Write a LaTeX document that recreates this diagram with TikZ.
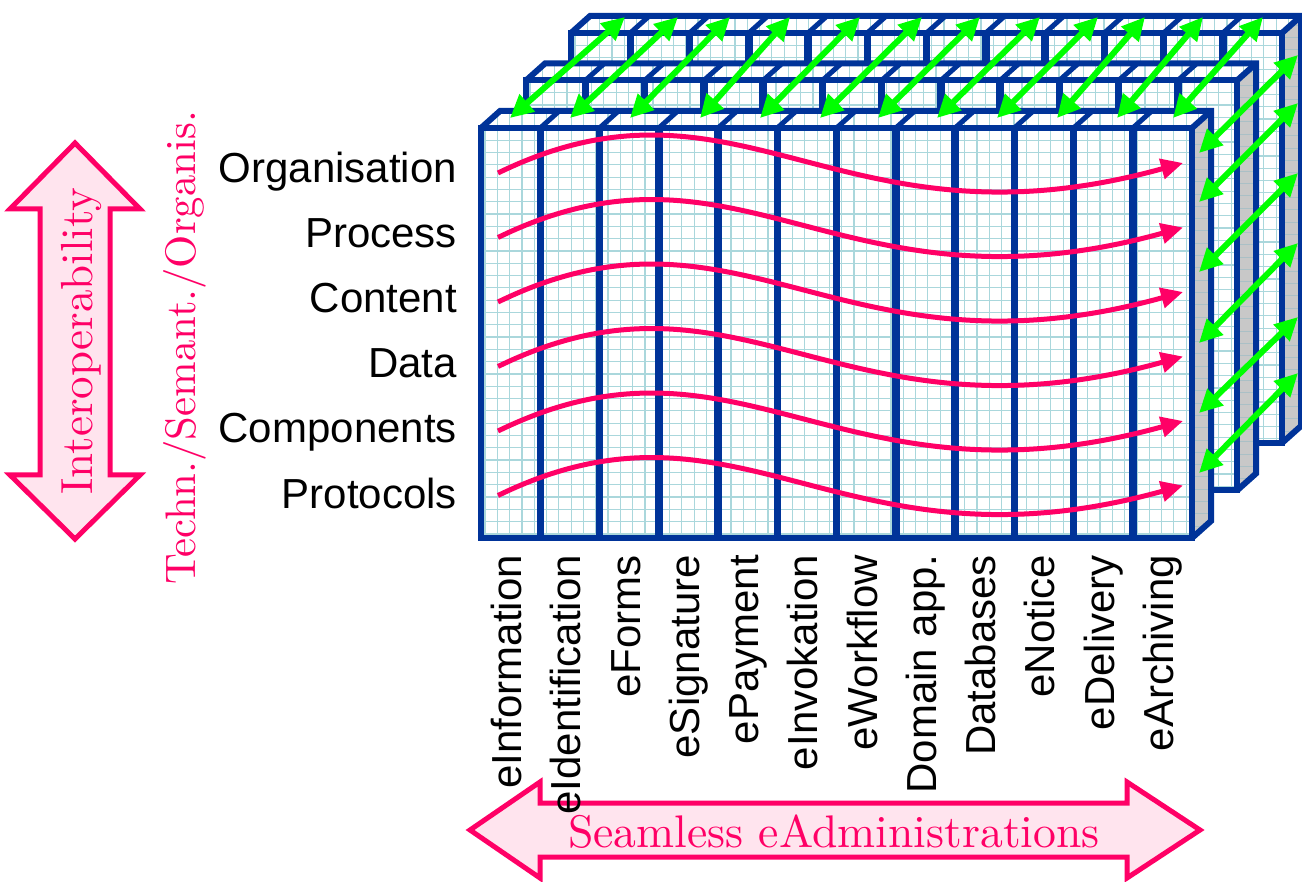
\documentclass[tikz,border=0pt]{standalone}
\usepackage{fontspec}
\newfontfamily\arialf{Liberation Sans}
\newfontfamily\lmten{lmroman10-regular}[Extension=.otf]
\usetikzlibrary{arrows.meta}
\definecolor{navy}{RGB}{0,51,153}
\definecolor{gridc}{RGB}{170,215,220}
\definecolor{sidegray}{RGB}{200,200,200}
\definecolor{sidegrid}{RGB}{170,192,198}
\definecolor{hotpink}{RGB}{255,0,102}
\definecolor{pinkfill}{RGB}{255,228,238}
\definecolor{limeg}{RGB}{0,255,0}
\tikzset{
  gridline/.style={gridc, line width=1.2pt},
  frameline/.style={navy, line width=6pt, line join=miter},
  divline/.style={navy, line width=7.5pt},
  topdiv/.style={navy, line width=5pt},
  wave/.style={hotpink, line width=5pt, -{Triangle[length=22pt,width=20pt]}},
  garrow/.style={limeg, line width=6pt, {Triangle[length=23pt,width=22pt]}-{Triangle[length=23pt,width=22pt]}},
  blockarrow/.style={draw=hotpink, fill=pinkfill, line width=5pt, line join=miter},
  rowlabel/.style={font=\arialf\fontsize{42}{42}\selectfont, anchor=base east, inner sep=0pt},
  collabel/.style={font=\arialf\fontsize{42}{42}\selectfont, anchor=base east, inner sep=0pt, rotate=90},
  pinktext/.style={text=hotpink, inner sep=0pt},
}
\newcommand{\drawlayer}[2]{%
  \pgfmathsetmacro{\LL}{#1}%
  \pgfmathsetmacro{\TT}{#2}%
  \pgfmathsetmacro{\RR}{#1+711}%
  \pgfmathsetmacro{\BB}{#2+410}%
  \fill[white] (\LL,\TT) rectangle (\RR,\BB);
  \begin{scope}
    \clip (\LL,\TT) rectangle (\RR,\BB);
    \foreach \g in {4,16.3,...,720} {\draw[gridline] (\LL+\g,\TT) -- (\LL+\g,\BB);}
    \foreach \g in {0,12.3,...,420} {\draw[gridline] (\LL,\TT+\g) -- (\RR,\TT+\g);}
  \end{scope}
  \fill[white] (\LL,\TT) -- (\LL+19,\TT-17) -- (\RR+19,\TT-17) -- (\RR,\TT) -- cycle;
  \begin{scope}
    \clip (\LL,\TT) -- (\LL+19,\TT-17) -- (\RR+19,\TT-17) -- (\RR,\TT) -- cycle;
    \foreach \g in {4,16.3,...,740} {\draw[gridline] (\LL+\g,\TT-17) -- (\LL+\g,\TT);}
  \end{scope}
  \fill[sidegray] (\RR,\TT) -- (\RR+19,\TT-17) -- (\RR+19,\BB-17) -- (\RR,\BB) -- cycle;
  \begin{scope}
    \clip (\RR,\TT) -- (\RR+19,\TT-17) -- (\RR+19,\BB-17) -- (\RR,\BB) -- cycle;
    \foreach \g in {-20,-7.7,...,420} {\draw[sidegrid,line width=1pt] (\RR,\TT+\g) -- (\RR+19,\TT+\g);}
  \end{scope}
  \foreach \i in {1,...,11} {
    \draw[divline] (\LL+\i*59.25,\TT) -- (\LL+\i*59.25,\BB);
    \draw[topdiv] (\LL+\i*59.25,\TT) -- ++(19,-17);
  }
  \draw[frameline] (\LL,\TT) rectangle (\RR,\BB);
  \draw[frameline] (\LL,\TT) -- (\LL+19,\TT-17) -- (\RR+19,\TT-17) -- (\RR+19,\BB-17) -- (\RR,\BB);
  \draw[frameline] (\RR,\TT) -- (\RR+19,\TT-17);
}
\begin{document}
\begin{tikzpicture}[x=1pt,y=-1pt]
\useasboundingbox (0,0) rectangle (1302,882);
% layers: back, middle, front
\drawlayer{571}{33}
\drawlayer{526}{80.5}
\drawlayer{481}{128}
% pink waves
\foreach \k in {0,...,5} {
  \pgfmathsetmacro{\s}{173+64.5*\k}
  \coordinate (ws\k) at (498,\s);
  \coordinate (we\k) at (1183,\s-10);
  \draw[wave] (ws\k) .. controls (740,\s-118) and (840,\s+85) .. (we\k);
}
% green arrows, top
\foreach \a/\b [count=\n] in {510/625,570/678,630/730,700/790,760/860,820/922,878/980,937/1040,997/1098,1057/1145,1117/1203,1173/1263} {
  \coordinate (gta\n) at (\a,118);
  \coordinate (gtb\n) at (\b,17);
  \draw[garrow] (gta\n) -- (gtb\n);
}
% green arrows, right
\foreach \a/\b [count=\n] in {153/55,202/103,272/173,343/243,413/317,473/373} {
  \coordinate (gra\n) at (1199,\a);
  \coordinate (grb\n) at (1298,\b);
  \draw[garrow] (gra\n) -- (grb\n);
}
% row labels
\node[rowlabel] (r1) at (457,183) {Organisation};
\node[rowlabel] (r2) at (457,248) {Process};
\node[rowlabel] (r3) at (457,313) {Content};
\node[rowlabel] (r4) at (457,378) {Data};
\node[rowlabel] (r5) at (457,443) {Components};
\node[rowlabel] (r6) at (457,508) {Protocols};
% left block arrow
\draw[blockarrow] (75,143) -- (140,209) -- (110,209) -- (110,475) -- (140,475) -- (75,539) -- (10,475) -- (40,475) -- (40,209) -- (10,209) -- cycle;
\node[pinktext, rotate=90, font=\lmten\fontsize{45}{45}\selectfont] (inter) at (81,341) {Interoperability};
\node[pinktext, rotate=90, font=\lmten\fontsize{42.7}{43}\selectfont] (techn) at (185,348) {Techn./Semant./Organis.};
% bottom block arrow
\draw[blockarrow] (470,830) -- (540,782) -- (540,803) -- (1127,803) -- (1127,782) -- (1200,830) -- (1127,878) -- (1127,857) -- (540,857) -- (540,878) -- cycle;
\node[pinktext, font=\lmten\fontsize{45.7}{46}\selectfont] (seam) at (834,832) {Seamless eAdministrations};
% column labels
\foreach \t [count=\n] in {eInformation,eIdentification,eForms,eSignature,ePayment,eInvokation,eWorkflow,Domain app.,Databases,eNotice,eDelivery,eArchiving} {
  \node[collabel] (c\n) at (481+59.25*\n-29.6+11,555) {\t};
}
\end{tikzpicture}
\end{document}
